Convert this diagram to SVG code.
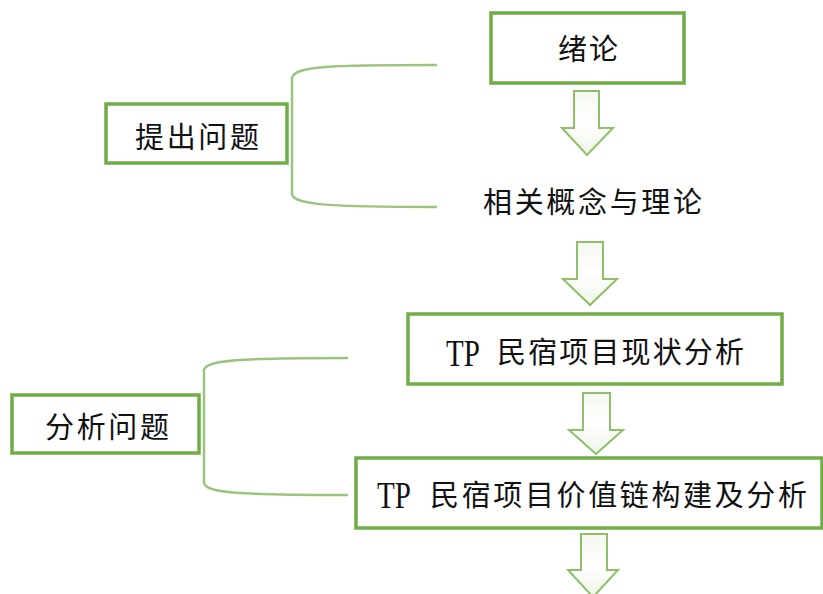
<svg xmlns="http://www.w3.org/2000/svg" width="823" height="594" viewBox="0 0 823 594">
<style>
.box{fill:#ffffff;stroke:#70ad47;stroke-width:3.5}
.arrow{fill:url(#ag);stroke:#8fbf68;stroke-width:2;stroke-linejoin:miter}
.br{fill:none;stroke:#9cc47e;stroke-width:2.5}
.zh{font-family:"Noto Sans CJK SC","Noto Sans CJK JP",sans-serif;font-size:29px;fill:#111111}
.en{font-family:"Liberation Serif",serif;font-size:29px;fill:#111111}
</style>
<defs>
<linearGradient id="ag" x1="0" y1="0" x2="0" y2="1">
<stop offset="0" stop-color="#f4f8f0"/>
<stop offset="0.5" stop-color="#ffffff"/>
<stop offset="1" stop-color="#eef5e8"/>
</linearGradient>
</defs>
<rect width="823" height="594" fill="#ffffff"/>
<g id="connectors">
<path class="arrow" d="M574,91 L599,91 L599,128 L613,128 L587,155 L562,128 L574,128 Z"/>
<path class="arrow" d="M577,242 L603,242 L603,279 L617,279 L590,305 L563,279 L577,279 Z"/>
<path class="arrow" d="M583,393 L610,393 L610,430 L623,430 L596,454 L569,430 L583,430 Z"/>
<path class="arrow" d="M581,534 L607,534 L607,570 L618,570 L593,597 L568,570 L581,570 Z"/>
<path class="br" d="M437,65 C330,65 294,66 292,78 L292,194 C294,205 330,207 437,207"/>
<path class="br" d="M348,358 C240,358 206,360 204,370 L204,483 C206,493 240,495 348,495"/>
</g>
<g id="node-xulun">
<rect class="box" x="491" y="13" width="193" height="70"/>
<text class="zh" x="558" y="60" textLength="60" lengthAdjust="spacing">绪论</text>
</g>
<g id="node-tichu">
<rect class="box" x="106" y="104" width="181" height="59"/>
<text class="zh" x="135" y="148" textLength="124" lengthAdjust="spacing">提出问题</text>
</g>
<g id="node-lilun">
<text class="zh" x="483" y="213" textLength="219" lengthAdjust="spacing">相关概念与理论</text>
</g>
<g id="node-xianzhuang">
<rect class="box" x="408" y="314" width="374" height="70"/>
<text class="en" transform="translate(446,366) scale(1,1.3)">TP</text>
<text class="zh" x="497" y="363" textLength="247" lengthAdjust="spacing">民宿项目现状分析</text>
</g>
<g id="node-fenxi">
<rect class="box" x="12" y="395" width="187" height="58"/>
<text class="zh" x="45" y="438" textLength="124" lengthAdjust="spacing">分析问题</text>
</g>
<g id="node-jiazhilian">
<rect class="box" x="356" y="458" width="466" height="70"/>
<text class="en" transform="translate(377,508) scale(1,1.3)">TP</text>
<text class="zh" x="430" y="506" textLength="377" lengthAdjust="spacing">民宿项目价值链构建及分析</text>
</g>
</svg>
